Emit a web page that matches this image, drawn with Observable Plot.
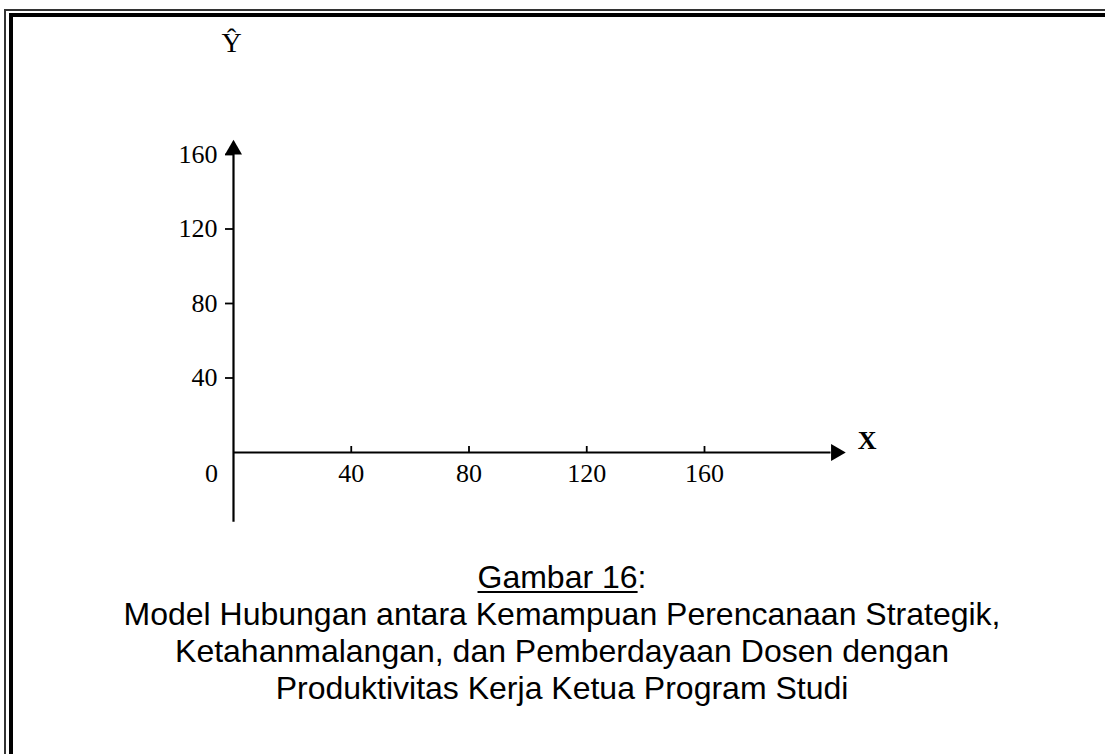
<!DOCTYPE html>
<html>
<head>
<meta charset="utf-8">
<script src="https://cdn.jsdelivr.net/npm/d3@7"></script>
<script src="https://cdn.jsdelivr.net/npm/@observablehq/plot@0.6"></script>
<style>
  html, body { margin: 0; padding: 0; background: #fff; }
  #page { position: relative; width: 1105px; height: 754px; overflow: hidden; background: #fff; }
  .bl { position: absolute; z-index: 5; }
  #chart { position: absolute; left: 0; top: 0; }
  #caption {
    position: absolute; left: 19px; width: 1086px; top: 559px;
    text-align: center; font-family: "Liberation Sans", Arial, sans-serif;
    font-size: 32px; line-height: 37px; color: #000;
  }
  #caption u { text-decoration-thickness: 2px; text-underline-offset: 3px; }
</style>
</head>
<body>
<div id="page">
  <div class="bl" style="left:4px; top:8.5px; width:1101px; height:2px; background:#333;"></div>
  <div class="bl" style="left:9px; top:13px; width:1096px; height:3.5px; background:#000;"></div>
  <div class="bl" style="left:4px; top:8.5px; width:2px; height:746px; background:#333;"></div>
  <div class="bl" style="left:9px; top:13px; width:3.5px; height:741px; background:#000;"></div>
  <div id="chart"></div>
  <div id="caption">
    <div><u>Gambar 16</u>:</div>
    <div>Model Hubungan antara Kemampuan Perencanaan Strategik,</div>
    <div>Ketahanmalangan, dan Pemberdayaan Dosen dengan</div>
    <div>Produktivitas Kerja Ketua Program Studi</div>
  </div>
</div>
<script>
// ---- data ----
const xTicks = [40, 80, 120, 160];
const yTicks = [40, 80, 120, 160];
const xTickLabels = ["40", "80", "120", "160"];
const yTickLabels = ["40", "80", "120", "160"];
const originLabel = ["0"];
const xAxisExtent = [0, 203];      // x axis runs from 0 to arrow base
const yAxisExtent = [-37.5, 160];  // y axis runs below 0 up to arrow base
const xAxisName = ["X"];
const yAxisName = ["Ŷ"];

const serif = '"Liberation Serif", "Times New Roman", serif';

const chart = Plot.plot({
  width: 1105,
  height: 540,
  marginLeft: 233,
  marginRight: 401,
  marginTop: 154,
  marginBottom: 88,
  x: { domain: [0, 160], axis: null },
  y: { domain: [0, 160], axis: null },
  style: { fontFamily: serif, fontSize: "26px", background: "transparent", color: "#000" },
  marks: [
    // axis lines
    Plot.ruleX([0], { y1: yAxisExtent[0], y2: yAxisExtent[1], stroke: "#000", strokeWidth: 2.2 }),
    Plot.ruleY([0], { x1: xAxisExtent[0], x2: xAxisExtent[1], stroke: "#000", strokeWidth: 2.2 }),
    // arrow heads
    Plot.dot([yAxisExtent[1]], { x: 0, y: d => d, symbol: "triangle", r: 6.3, fill: "#000", stroke: "none", dy: -4.9 }),
    Plot.dot([xAxisExtent[1]], { x: d => d, y: 0, symbol: "triangle", r: 6.3, fill: "#000", stroke: "none", rotate: 90, dx: 4.9 }),
    // y ticks (left) with labels
    Plot.axisY(yTicks, {
      anchor: "left", tickSize: 8, tickPadding: 8, strokeWidth: 1.8,
      tickFormat: (d, i) => yTickLabels[yTicks.indexOf(d)],
      fontSize: 26, fontFamily: serif, fill: "#000", stroke: "#000"
    }),
    // x ticks (upward)
    Plot.ruleX(xTicks, { x: d => d, y1: 0, y2: 0, insetTop: -6, stroke: "#000", strokeWidth: 1.8 }),
    // x tick labels
    Plot.text(xTicks, { x: d => d, y: 0, text: (d, i) => xTickLabels[i], dy: 21, fontSize: 26, fontFamily: serif, fill: "#000" }),
    // origin label
    Plot.text(originLabel, { x: 0, y: 0, text: d => d, dx: -22, dy: 21, fontSize: 26, fontFamily: serif, fill: "#000" }),
    // axis names
    Plot.text(yAxisName, { x: 0, y: yAxisExtent[1], text: d => d, dx: -2, dy: -111, fontSize: 28, fontFamily: serif, fill: "#000" }),
    Plot.text(xAxisName, { x: xAxisExtent[1], y: 0, text: d => d, dx: 36, dy: -12, fontSize: 26, fontWeight: "bold", fontFamily: serif, fill: "#000" })
  ]
});
document.getElementById("chart").appendChild(chart);
</script>
</body>
</html>
